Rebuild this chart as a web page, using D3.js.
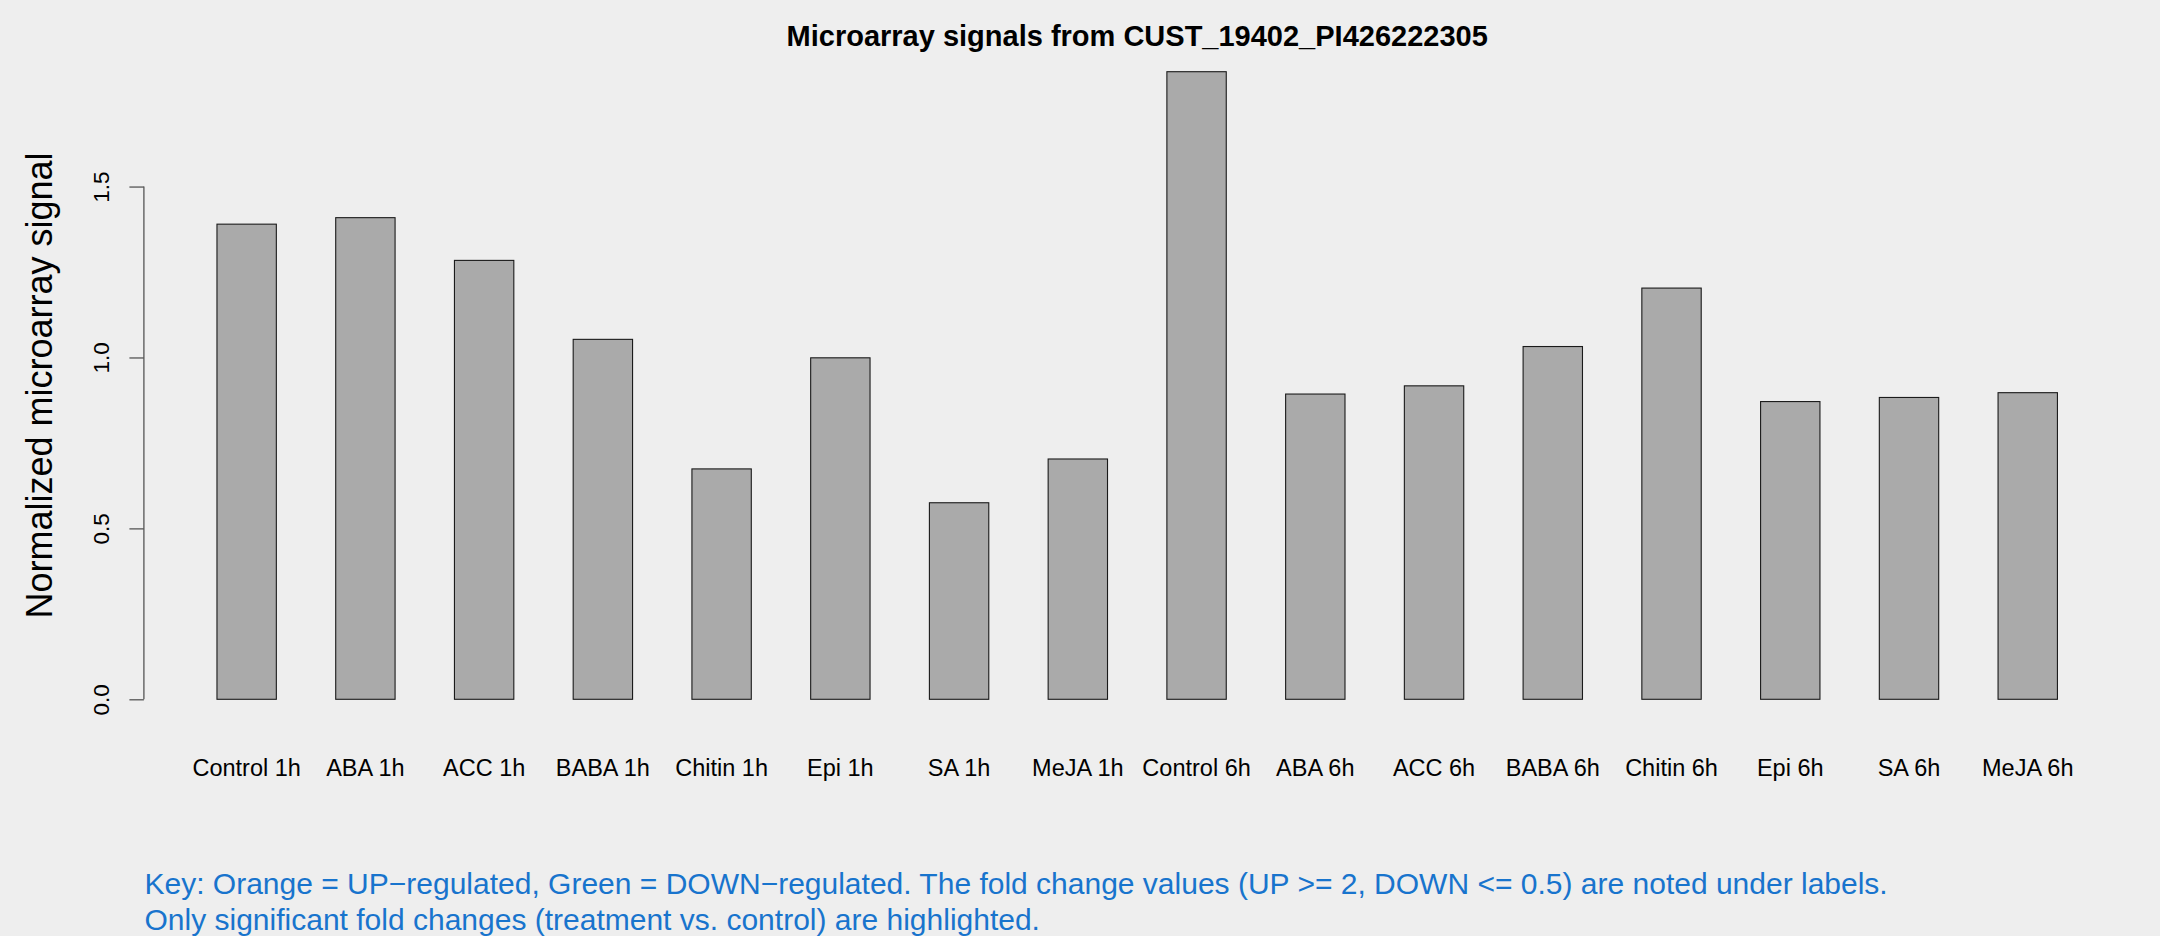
<!DOCTYPE html>
<html>
<head>
<meta charset="utf-8">
<script src="https://cdn.jsdelivr.net/npm/d3@7"></script>
<style>
  html, body { margin: 0; padding: 0; background: #EEEEEE; }
  svg { display: block; }
  text { font-family: "Liberation Sans", Arial, Helvetica, sans-serif; }
</style>
</head>
<body>
<svg id="chart" width="2160" height="936"></svg>
<script>
// ---- data ----
const categories = ["Control 1h", "ABA 1h", "ACC 1h", "BABA 1h", "Chitin 1h", "Epi 1h", "SA 1h", "MeJA 1h",
                    "Control 6h", "ABA 6h", "ACC 6h", "BABA 6h", "Chitin 6h", "Epi 6h", "SA 6h", "MeJA 6h"];
const signalValues = [1.390, 1.409, 1.284, 1.053, 0.674, 0.999, 0.575, 0.703,
                      1.836, 0.893, 0.917, 1.032, 1.203, 0.871, 0.883, 0.897];
const yTicks = [0, 0.5, 1.0, 1.5];
const yTickLabels = ["0.0", "0.5", "1.0", "1.5"];
const titleText = "Microarray signals from CUST_19402_PI426222305";
const yLabelText = "Normalized microarray signal";
const keyLines = [
  "Key: Orange = UP\u2212regulated, Green = DOWN\u2212regulated. The fold change values (UP >= 2, DOWN <= 0.5) are noted under labels.",
  "Only significant fold changes (treatment vs. control) are highlighted."
];

// ---- layout ----
const W = 2160, H = 936;
const plotLeft = 143.4, plotRight = 2131, plotTop = 46.6, plotBottom = 724.4;
const svg = d3.select("#chart");
svg.append("rect").attr("width", W).attr("height", H).attr("fill", "#EEEEEE");

const yMax = d3.max(signalValues);
const y = d3.scaleLinear()
  .domain([-0.04 * yMax, 1.04 * yMax])
  .range([plotBottom, plotTop]);

const x = d3.scaleBand()
  .domain(categories)
  .range([157.6, 2116.8])
  .paddingInner(0.5)
  .paddingOuter(0.5);

// bars
svg.append("g").selectAll("rect")
  .data(categories)
  .join("rect")
  .attr("x", d => x(d))
  .attr("y", (d, i) => y(signalValues[i]))
  .attr("width", x.bandwidth())
  .attr("height", (d, i) => y(0) - y(signalValues[i]))
  .attr("fill", "#AAAAAA")
  .attr("stroke", "#1a1a1a")
  .attr("stroke-width", 1.1);

// y axis
const axisX = plotLeft + 0.5;
const yAxis = d3.axisLeft(y).tickValues(yTicks).tickSize(14.5).tickFormat((d, i) => yTickLabels[i]);
const gy = svg.append("g").attr("transform", `translate(${axisX},0)`).call(yAxis);
gy.select(".domain").remove();
gy.append("line")
  .attr("x1", 0).attr("x2", 0)
  .attr("y1", y(yTicks[0])).attr("y2", y(yTicks[yTicks.length - 1]))
  .attr("stroke", "#555").attr("stroke-width", 1.3);
gy.selectAll(".tick line").attr("stroke", "#555").attr("stroke-width", 1.3);
gy.selectAll(".tick text")
  .attr("font-size", 22.5)
  .attr("fill", "#000")
  .attr("text-anchor", "middle")
  .attr("dy", null)
  .attr("x", null)
  .attr("transform", "translate(-34.5,0) rotate(-90)")
  .attr("y", 0);

// x labels (category names)
svg.append("g").selectAll("text")
  .data(categories)
  .join("text")
  .attr("x", d => x(d) + x.bandwidth() / 2)
  .attr("y", 775.5)
  .attr("text-anchor", "middle")
  .attr("font-size", 23.5)
  .attr("fill", "#000")
  .text(d => d);

// title
svg.append("text")
  .attr("x", (plotLeft + plotRight) / 2)
  .attr("y", 45.5)
  .attr("text-anchor", "middle")
  .attr("font-size", 29)
  .attr("font-weight", "bold")
  .attr("fill", "#000")
  .text(titleText);

// y label
svg.append("text")
  .attr("transform", `translate(51.5,${(plotTop + plotBottom) / 2}) rotate(-90)`)
  .attr("text-anchor", "middle")
  .attr("font-size", 36)
  .attr("fill", "#000")
  .text(yLabelText);

// key text
svg.append("g").selectAll("text")
  .data(keyLines)
  .join("text")
  .attr("x", 144.5)
  .attr("y", (d, i) => 894 + i * 36)
  .attr("font-size", 30)
  .attr("fill", "#1874CD")
  .text(d => d);
</script>
</body>
</html>
